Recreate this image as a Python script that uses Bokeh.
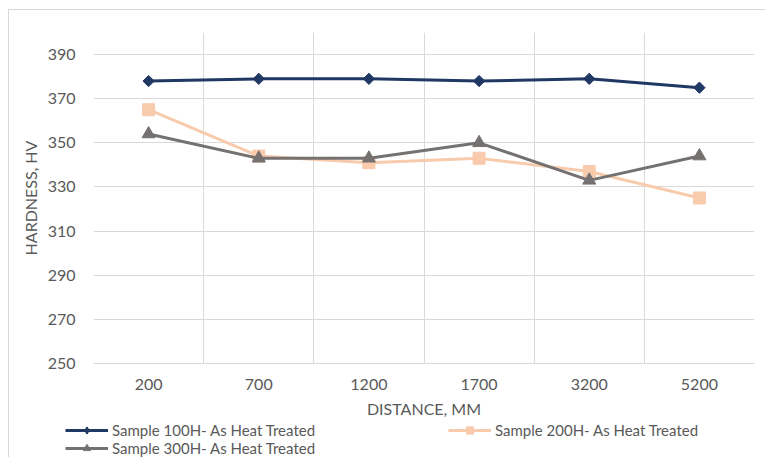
import math

from bokeh.plotting import figure
from bokeh.layouts import column
from bokeh.models import Range1d, FixedTicker, Legend, LegendItem
from bokeh.embed import file_html
from bokeh.resources import INLINE

# Hardness readings (HV) along the distance from the end (mm)
distance_labels = ["200", "700", "1200", "1700", "3200", "5200"]
hardness_100h = [378, 379, 379, 378, 379, 375]
hardness_200h = [365, 344, 341, 343, 337, 325]
hardness_300h = [354, 343, 343, 350, 333, 344]
y_ticks = [250, 270, 290, 310, 330, 350, 370, 390]
series_names = [
    "Sample 100H- As Heat Treated",
    "Sample 200H- As Heat Treated",
    "Sample 300H- As Heat Treated",
]
series_colors = ["#1F3864", "#F8CBAD", "#767171"]

TEXT = "#595959"
GRID = "#D9D9D9"
FONT = "Lato"
EDGE = "1px solid #D9D9D9"

x_pos = list(range(len(distance_labels)))
series_values = [hardness_100h, hardness_200h, hardness_300h]
# (marker, angle, size) per series in the chart: diamond, square, triangle
chart_markers = [("square", math.pi / 4, 8), ("square", 0.0, 12), ("triangle", 0.0, 13)]
# legend keys are drawn unrotated, so the diamond gets its own marker there
key_markers = ["diamond", "square", "triangle"]

p = figure(
    width=757, height=412,
    margin=(9, 0, 0, 8),
    styles={"border-top": EDGE, "border-left": EDGE},
    x_range=Range1d(-0.5, len(distance_labels) - 0.5),
    y_range=Range1d(250, 400),
    output_backend="svg", toolbar_location=None,
    min_border_left=84, min_border_right=12,
    min_border_top=22, min_border_bottom=59,
)
p.frame_align = False
p.outline_line_color = None
p.background_fill_color = "white"
p.border_fill_color = "white"

# axes
p.xaxis.ticker = FixedTicker(ticks=x_pos)
p.xaxis.major_label_overrides = {i: lab for i, lab in enumerate(distance_labels)}
p.yaxis.ticker = FixedTicker(ticks=y_ticks)
for ax in (p.xaxis[0], p.yaxis[0]):
    ax.major_tick_line_color = None
    ax.minor_tick_line_color = None
    ax.major_label_text_color = TEXT
    ax.major_label_text_font = FONT
    ax.major_label_text_font_size = "16px"
    ax.axis_label_text_color = TEXT
    ax.axis_label_text_font = FONT
    ax.axis_label_text_font_size = "16px"
    ax.axis_label_text_font_style = "normal"
p.yaxis.axis_line_color = None
p.xaxis.axis_line_color = GRID
p.yaxis.major_label_standoff = 12
p.xaxis.major_label_standoff = 9
p.xaxis.axis_label = "DISTANCE, MM"
p.yaxis.axis_label = "HARDNESS, HV"
p.xaxis.axis_label_standoff = 6
p.yaxis.axis_label_standoff = 5

# grid: horizontal at value ticks, vertical between categories
p.ygrid.ticker = FixedTicker(ticks=y_ticks)
p.ygrid.grid_line_color = GRID
p.xgrid.ticker = FixedTicker(ticks=[i - 0.5 for i in range(len(distance_labels) + 1)])
p.xgrid.grid_line_color = GRID

for vals, color, (marker, angle, size) in zip(series_values, series_colors, chart_markers):
    p.line(x_pos, vals, line_color=color, line_width=3)
    p.scatter(x_pos, vals, marker=marker, angle=angle, size=size,
              fill_color=color, line_color=color)

# legend strip below the chart; its key glyphs reuse the series data,
# which lies outside this strip's 0..1 ranges so only the keys show
lf = figure(
    width=757, height=36,
    margin=(0, 0, 0, 8),
    styles={"border-left": EDGE},
    x_range=Range1d(0, 1), y_range=Range1d(0, 1),
    x_axis_type=None, y_axis_type=None,
    output_backend="svg", toolbar_location=None,
    min_border=0,
)
lf.frame_align = False
lf.outline_line_color = None
lf.grid.visible = False

keys = []
for vals, color, marker in zip(series_values, series_colors, key_markers):
    kl = lf.line(x_pos, vals, line_color=color, line_width=3)
    km = lf.scatter(x_pos, vals, marker=marker, fill_color=color, line_color=color)
    keys.append([kl, km])


def make_legend(items, loc):
    leg = Legend(items=items, location=loc, orientation="vertical")
    leg.border_line_color = None
    leg.background_fill_alpha = 0
    leg.padding = 0
    leg.margin = 0
    leg.spacing = 0
    leg.glyph_width = 43
    leg.glyph_height = 18
    leg.label_height = 18
    leg.label_standoff = 4
    leg.label_text_font = FONT
    leg.label_text_font_size = "15px"
    leg.label_text_color = TEXT
    return leg


lf.add_layout(make_legend([
    LegendItem(label=series_names[0], renderers=keys[0]),
    LegendItem(label=series_names[2], renderers=keys[2]),
], (56, 0)))
lf.add_layout(make_legend([
    LegendItem(label=series_names[1], renderers=keys[1]),
], (439, 18)))

layout = column(p, lf, spacing=0)
open("out.html", "w").write(file_html(layout, INLINE))
